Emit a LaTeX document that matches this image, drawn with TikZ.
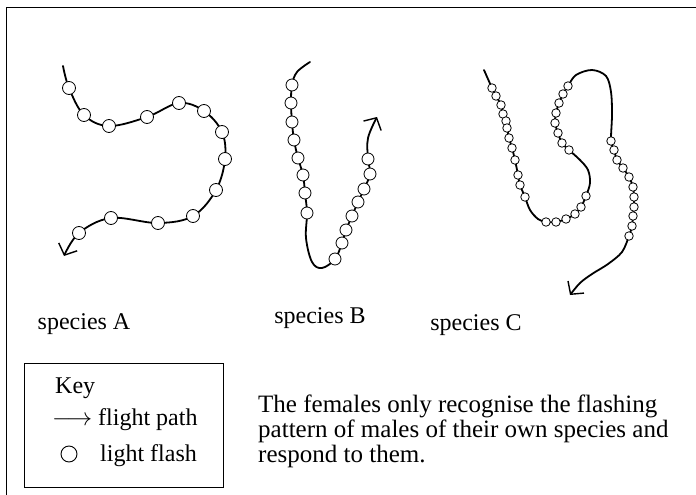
\documentclass[tikz,border=0pt]{standalone}
\usepackage{fontspec}
\setmainfont{Liberation Serif}
\usetikzlibrary{arrows.meta}
\begin{document}
\begin{tikzpicture}[x=1pt,y=-1pt,
  flight/.style={line width=1.8pt, line cap=round},
  fl/.style={circle, draw, fill=white, line width=0.8pt, inner sep=0pt},
  big/.style={fl, minimum size=13pt},
  mid/.style={fl, minimum size=12pt},
  small/.style={fl, minimum size=8.5pt},
  lbl/.style={font=\fontsize{24}{27}\selectfont, inner sep=0pt},
  para/.style={font=\fontsize{25}{25}\selectfont, inner sep=0pt, anchor=base west},
  barb/.style={-{Straight Barb[length=9pt,width=20pt,line width=1.4pt]}}
]
\useasboundingbox (0,0) rectangle (696,495);
% frame
\draw[line width=1pt] (6,495) -- (6,8) -- (696,8);

% species A
\draw[flight,barb] plot[smooth,tension=0.6] coordinates {(63,66) (69,88) (84,115) (109,126) (147,117) (179,103) (204,111) (222,132) (225,159) (216,190) (193,216) (158,223) (111,218) (79,233) (64,256)};
\foreach \p [count=\i] in {(69,88),(84,115),(109,126),(147,117),(179,103),(204,111),(222,132),(225,159),(216,190),(193,216),(158,223),(111,218),(79,233)}
  \node[big] (a\i) at \p {};

% species B
\draw[flight,barb] plot[smooth,tension=0.6] coordinates {(310,62) (297,72) (292,85) (291,103) (292,122) (294,140) (298,158) (303,175) (305,193) (307,213) (306,238) (312,262) (322,268) (335,259) (342,243) (346,230) (352,216) (358,202) (364,189) (370,174) (368,159) (368,138) (377,117)};
\foreach \p [count=\i] in {(292,85),(291,103),(292,122),(294,140),(298,158),(303,175),(305,193),(307,213),(335,259),(342,243),(346,230),(352,216),(358,202),(364,189),(370,174),(368,159)}
  \node[mid] (b\i) at \p {};

% species C
\draw[flight,barb] plot[smooth,tension=0.55] coordinates {(484,70) (492,88) (496,96) (501,105) (503,114) (507,128) (509,138) (512,148) (515,160) (518,175) (520,185) (525,197) (530,210) (538,219) (546,222) (556,222) (566,219) (575,214) (581,207) (586,196) (590,183) (588,170) (580,160) (569,150) (562,143) (558,133) (555,123) (556,113) (559,103) (563,94) (568,86) (576,75) (592,70) (606,76) (611,92) (612,115) (611,141) (614,150) (617,160) (623,168) (629,177) (633,187) (634,197) (634,207) (633,216) (632,226) (629,236) (622,252) (608,264) (592,274) (580,283) (570,295)};
\foreach \p [count=\i] in {(492,88),(496,96),(501,105),(503,114),(506,121),(507,128),(509,138),(512,148),(515,160),(518,175),(520,185),(525,197),(546,222),(556,222),(566,219),(575,214),(581,207),(586,196),(569,150),(562,143),(558,133),(555,123),(556,113),(559,103),(563,94),(568,86),(611,141),(614,150),(617,160),(623,168),(629,177),(633,187),(634,197),(634,207),(633,216),(632,226),(629,236)}
  \node[small] (c\i) at \p {};

% labels
\node[lbl] (la) at (84,324) {species A};
\node[lbl] (lb) at (320,318) {species B};
\node[lbl] (lc) at (476,325) {species C};

% key
\node[draw, line width=1pt, minimum width=199pt, minimum height=124pt, anchor=north west, inner sep=0pt] (key) at (24,363) {};
\node[lbl, anchor=base west] (kt) at (55,393) {Key};
\node[lbl, anchor=base west] (karr) at (52,425) {$\longrightarrow$};
\node[lbl, anchor=base west] (kfp) at (98,425) {flight path};
\node[fl, minimum size=16pt, line width=0.9pt] (kc) at (69,454) {};
\node[lbl, anchor=base west] (klf) at (100,461) {light flash};

% text
\node[para] (t1) at (258,412) {The females only recognise the flashing};
\node[para] (t2) at (258,437) {pattern of males of their own species and};
\node[para] (t3) at (258,462) {respond to them.};
\end{tikzpicture}
\end{document}
